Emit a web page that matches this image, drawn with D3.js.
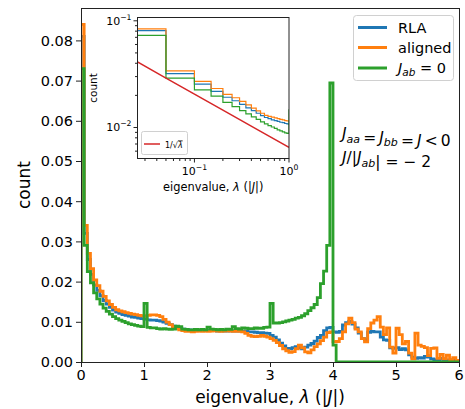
<!DOCTYPE html>
<html>
<head>
<meta charset="utf-8">
<script src="https://cdn.jsdelivr.net/npm/d3@7"></script>
<style>
  body { margin: 0; background: #fff; }
  svg { display: block; font-family: "DejaVu Sans", sans-serif; }
</style>
</head>
<body>
<svg id="chart" width="465" height="409"></svg>
<script>
// histogram bins: 120 bins of width 0.05 on [0, 6]
const binWidth = 0.05;

const rla = [
  0.081, 0.032, 0.0255, 0.0218, 0.0192, 0.0178, 0.0165, 0.0153, 0.0144, 0.0136,
  0.0129, 0.0124, 0.0121, 0.0118, 0.0116, 0.0114, 0.0112, 0.0111, 0.0109, 0.0108,
  0.0107, 0.0105, 0.0104, 0.0104, 0.0103, 0.0102, 0.0099, 0.0096, 0.0093, 0.0089,
  0.0086, 0.0084, 0.0082, 0.0081, 0.0080, 0.0079, 0.0079, 0.0078, 0.0078, 0.0078,
  0.0079, 0.0078, 0.0078, 0.0077, 0.0078, 0.0077, 0.0077, 0.0078, 0.0077, 0.0077,
  0.0078, 0.0077, 0.0076, 0.0075, 0.0075, 0.0074, 0.0073, 0.0073, 0.0072, 0.0071,
  0.0066, 0.0062, 0.0055, 0.0047, 0.0040, 0.0034, 0.0033, 0.0036, 0.0038, 0.0036,
  0.0033, 0.0037, 0.0042, 0.0046, 0.0052, 0.0061, 0.0066, 0.0078, 0.0085, 0.0086,
  0.0075, 0.0074, 0.0076, 0.0092, 0.0098, 0.0101, 0.0094, 0.0085, 0.0072, 0.0058,
  0.0055, 0.0074, 0.0076, 0.0075, 0.0075, 0.0062, 0.0055, 0.0054, 0.0035, 0.0034,
  0.0036, 0.0031, 0.0033, 0.0030, 0.0018, 0.0012, 0.0009, 0.0011, 0.0010, 0.0014,
  0.0012, 0.0008, 0.0005, 0.0006, 0.0009, 0.0005, 0.0004, 0.0005, 0.0004, 0.0003
];

const aligned = [
  0.084, 0.034, 0.027, 0.0232, 0.0204, 0.0190, 0.0176, 0.0163, 0.0152, 0.0143,
  0.0136, 0.0130, 0.0127, 0.0125, 0.0123, 0.0121, 0.0119, 0.0118, 0.0116, 0.0115,
  0.0114, 0.0116, 0.0117, 0.0117, 0.0116, 0.0113, 0.0106, 0.0099, 0.0093, 0.0088,
  0.0083, 0.0080, 0.0078, 0.0076, 0.0076, 0.0075, 0.0076, 0.0077, 0.0076, 0.0077,
  0.0076, 0.0077, 0.0078, 0.0077, 0.0076, 0.0077, 0.0078, 0.0077, 0.0076, 0.0077,
  0.0076, 0.0075, 0.0071, 0.0066, 0.0064, 0.0063, 0.0064, 0.0066, 0.0064, 0.0062,
  0.0058, 0.0054, 0.0048, 0.0041, 0.0033, 0.0028, 0.0024, 0.0026, 0.0033, 0.0042,
  0.0035, 0.0025, 0.0023, 0.0030, 0.0038, 0.0045, 0.0053, 0.0062, 0.0073, 0.0075,
  0.0050, 0.0051, 0.0058, 0.0075, 0.0095, 0.0109, 0.0098, 0.0082, 0.0075, 0.0058,
  0.0050, 0.0083, 0.0097, 0.0104, 0.0113, 0.0087, 0.0068, 0.0085, 0.0037, 0.0022,
  0.0084, 0.0068, 0.0045, 0.0051, 0.0022, 0.0008, 0.0072, 0.0042, 0.0039, 0.0036,
  0.0016, 0.0034, 0.0035, 0.0009, 0.0019, 0.0008, 0.0017, 0.0006, 0.0011, 0.0004
];

const jab0 = [
  0.073, 0.029, 0.0225, 0.0197, 0.0172, 0.0157, 0.0144, 0.0134, 0.0126, 0.0119,
  0.0113, 0.0108, 0.0104, 0.0101, 0.0098, 0.0095, 0.0093, 0.0091, 0.0089, 0.0088,
  0.0146, 0.0086, 0.0085, 0.0085, 0.0083, 0.0082, 0.0083, 0.0082, 0.0081, 0.0082,
  0.0089, 0.0088, 0.0082, 0.0081, 0.0080, 0.0080, 0.0081, 0.0080, 0.0081, 0.0080,
  0.0087, 0.0082, 0.0081, 0.0080, 0.0081, 0.0080, 0.0082, 0.0081, 0.0088, 0.0083,
  0.0082, 0.0085, 0.0084, 0.0083, 0.0083, 0.0085, 0.0084, 0.0084, 0.0086, 0.0087,
  0.0146, 0.0097, 0.0097, 0.0098, 0.0100, 0.0102, 0.0104, 0.0106, 0.0109, 0.0111,
  0.0115, 0.0120, 0.0128, 0.0135, 0.0143, 0.0160, 0.0195, 0.0226, 0.0290, 0.0694,
  0.0042, 0, 0, 0, 0, 0, 0, 0, 0, 0,
  0, 0, 0, 0, 0, 0, 0, 0, 0, 0,
  0, 0, 0, 0, 0, 0, 0, 0, 0, 0,
  0, 0, 0, 0, 0, 0, 0, 0, 0, 0
];

const seriesNames = ["RLA", "aligned", "Jab0"];
const seriesColors = ["#1f77b4", "#ff7f0e", "#2ca02c"];
const xTicks = [0, 1, 2, 3, 4, 5, 6];
const yTicks = [0, 0.01, 0.02, 0.03, 0.04, 0.05, 0.06, 0.07, 0.08];
const refCoef = 0.0065;          // 1/sqrt(lambda) guide line, scaled
const refLambda = [0.02, 0.05, 0.1, 0.2, 0.5, 1.0];

const svg = d3.select("#chart");
const allSeries = [rla, aligned, jab0];

// ---------- main axes ----------
const m = { left: 81, right: 459, top: 8, bottom: 362 };
const x = d3.scaleLinear().domain([0, 6]).range([m.left, m.right]);
const y = d3.scaleLinear().domain([0, 0.08806]).range([m.bottom, m.top]);

const stepPoints = (vals, last) => {
  const n = last === undefined ? vals.length : last;
  const pts = [[0, 0]];
  for (let i = 0; i < n; i++) {
    pts.push([i * binWidth, vals[i]]);
    pts.push([(i + 1) * binWidth, vals[i]]);
  }
  pts.push([n * binWidth, 0]);
  return pts;
};

svg.append("clipPath").attr("id", "mainClip")
  .append("rect")
  .attr("x", m.left).attr("y", m.top)
  .attr("width", m.right - m.left).attr("height", m.bottom - m.top);

const mainLine = d3.line().x(d => x(d[0])).y(d => y(d[1]));
const plot = svg.append("g").attr("clip-path", "url(#mainClip)");
allSeries.forEach((vals, k) => {
  plot.append("path")
    .attr("d", mainLine(stepPoints(vals)))
    .attr("fill", "none")
    .attr("stroke", seriesColors[k])
    .attr("stroke-width", 2.8)
    .attr("stroke-linejoin", "miter");
});

// frame
svg.append("rect")
  .attr("x", m.left + 0.5).attr("y", m.top + 0.5)
  .attr("width", m.right - m.left).attr("height", m.bottom - m.top)
  .attr("fill", "none").attr("stroke", "#222").attr("stroke-width", 1);

const gx = svg.append("g");
xTicks.forEach(t => {
  gx.append("line").attr("x1", x(t) + 0.5).attr("x2", x(t) + 0.5)
    .attr("y1", m.bottom).attr("y2", m.bottom + 5).attr("stroke", "#222");
  gx.append("text").attr("x", x(t)).attr("y", m.bottom + 18)
    .attr("text-anchor", "middle").attr("font-size", 14.5).text(t);
});
const gy = svg.append("g");
yTicks.forEach(t => {
  gy.append("line").attr("x1", m.left - 5).attr("x2", m.left)
    .attr("y1", y(t) + 0.5).attr("y2", y(t) + 0.5).attr("stroke", "#222");
  gy.append("text").attr("x", m.left - 8).attr("y", y(t) + 5.3)
    .attr("text-anchor", "end").attr("font-size", 14.5).text(d3.format(".2f")(t));
});

svg.append("text").attr("transform", "translate(24,185) rotate(-90)")
  .attr("text-anchor", "middle").attr("dominant-baseline", "central")
  .attr("font-size", 17).text("count");

const xl = svg.append("text").attr("x", (m.left + m.right) / 2).attr("y", 403)
  .attr("text-anchor", "middle").attr("font-size", 17);
xl.append("tspan").text("eigenvalue, ");
xl.append("tspan").attr("font-style", "italic").text("λ");
xl.append("tspan").text(" (|");
xl.append("tspan").attr("font-style", "italic").text("J");
xl.append("tspan").text("|)");

// ---------- legend ----------
const lg = svg.append("g");
lg.append("rect").attr("x", 353.5).attr("y", 15.5).attr("width", 100).attr("height", 65)
  .attr("rx", 3).attr("fill", "#fff").attr("fill-opacity", 0.8)
  .attr("stroke", "#d0d0d0");
const legendY = [27.5, 47.5, 68];
seriesNames.forEach((name, k) => {
  lg.append("line").attr("x1", 358).attr("x2", 387)
    .attr("y1", legendY[k]).attr("y2", legendY[k])
    .attr("stroke", seriesColors[k]).attr("stroke-width", 3);
  const t = lg.append("text").attr("x", 398).attr("y", legendY[k] + 5)
    .attr("font-size", 14.5);
  if (name === "Jab0") {
    t.append("tspan").attr("font-style", "italic").text("J");
    t.append("tspan").attr("font-style", "italic").attr("font-size", 10.5)
      .attr("dy", 3).text("ab");
    t.append("tspan").attr("dy", -3).text(" = 0");
  } else {
    t.text(name);
  }
});

// ---------- annotations ----------
const thin = "\u2009";
const ann1 = svg.append("text").attr("x", 342).attr("y", 139).attr("font-size", 15.5);
const sub = (el, s) => {
  el.append("tspan").attr("font-style", "italic").attr("font-size", 11).attr("dy", 3.5).text(s);
  el.append("tspan").attr("dy", -3.5).text("");
};
ann1.append("tspan").attr("font-style", "italic").text("J");
sub(ann1, "aa");
ann1.append("tspan").text(thin + "=" + thin);
ann1.append("tspan").attr("font-style", "italic").text("J");
sub(ann1, "bb");
ann1.append("tspan").text(thin + "=" + thin);
ann1.append("tspan").attr("font-style", "italic").text("J");
ann1.append("tspan").text(thin + "<" + thin + "0");

const ann2 = svg.append("text").attr("x", 342).attr("y", 163).attr("font-size", 15.5);
ann2.append("tspan").attr("font-style", "italic").text("J");
ann2.append("tspan").text("/|");
ann2.append("tspan").attr("font-style", "italic").text("J");
sub(ann2, "ab");
ann2.append("tspan").text("| =  − 2");

// ---------- inset (log-log) ----------
const im = { left: 137.5, right: 289, top: 17.5, bottom: 158.5 };
const ix = d3.scaleLog().domain([0.025, 1]).range([im.left, im.right]);
const iy = d3.scaleLog().domain([0.00512, 0.1074]).range([im.bottom, im.top]);

svg.append("rect").attr("x", im.left).attr("y", im.top)
  .attr("width", im.right - im.left).attr("height", im.bottom - im.top)
  .attr("fill", "#fff");

svg.append("clipPath").attr("id", "insetClip")
  .append("rect").attr("x", im.left).attr("y", im.top)
  .attr("width", im.right - im.left).attr("height", im.bottom - im.top);

const inset = svg.append("g").attr("clip-path", "url(#insetClip)");
const insetLine = d3.line().x(d => ix(Math.max(d[0], 0.01))).y(d => iy(Math.max(d[1], 1e-4)));
allSeries.forEach((vals, k) => {
  const pts = stepPoints(vals, 21).slice(1, -1);
  inset.append("path")
    .attr("d", insetLine(pts))
    .attr("fill", "none")
    .attr("stroke", seriesColors[k])
    .attr("stroke-width", 1.2);
});
inset.append("path")
  .attr("d", d3.line().x(d => ix(d)).y(d => iy(refCoef / Math.sqrt(d)))(refLambda))
  .attr("fill", "none").attr("stroke", "#d62728").attr("stroke-width", 1.5);

svg.append("rect").attr("x", im.left).attr("y", im.top)
  .attr("width", im.right - im.left).attr("height", im.bottom - im.top)
  .attr("fill", "none").attr("stroke", "#222").attr("stroke-width", 1);

const ixMajor = [0.1, 1];
const ixMinor = [0.03, 0.04, 0.05, 0.06, 0.07, 0.08, 0.09, 0.2, 0.3, 0.4, 0.5, 0.6, 0.7, 0.8, 0.9];
const iyMajor = [0.1, 0.01];
const iyMinor = [0.006, 0.007, 0.008, 0.009, 0.02, 0.03, 0.04, 0.05, 0.06, 0.07, 0.08, 0.09];
const ig = svg.append("g").attr("stroke", "#222");
ixMajor.forEach(t => ig.append("line").attr("x1", ix(t)).attr("x2", ix(t))
  .attr("y1", im.bottom).attr("y2", im.bottom + 4));
ixMinor.forEach(t => ig.append("line").attr("x1", ix(t)).attr("x2", ix(t))
  .attr("y1", im.bottom).attr("y2", im.bottom + 2.5));
iyMajor.forEach(t => ig.append("line").attr("y1", iy(t)).attr("y2", iy(t))
  .attr("x1", im.left - 4).attr("x2", im.left));
iyMinor.forEach(t => ig.append("line").attr("y1", iy(t)).attr("y2", iy(t))
  .attr("x1", im.left - 2.5).attr("x2", im.left));

const powLabel = (sel, e) => {
  sel.append("tspan").text("10");
  sel.append("tspan").attr("font-size", 7.7).attr("dy", -5).text(e);
};
ixMajor.forEach((t, i) => {
  const tx = svg.append("text").attr("x", ix(t)).attr("y", im.bottom + 16)
    .attr("text-anchor", "middle").attr("font-size", 11);
  powLabel(tx, i === 0 ? "−1" : "0");
});
iyMajor.forEach((t, i) => {
  const ty = svg.append("text").attr("x", im.left - 6).attr("y", iy(t) + 4)
    .attr("text-anchor", "end").attr("font-size", 11);
  powLabel(ty, i === 0 ? "−1" : "−2");
});

svg.append("text").attr("transform", `translate(93,${(im.top + im.bottom) / 2}) rotate(-90)`)
  .attr("text-anchor", "middle").attr("dominant-baseline", "central")
  .attr("font-size", 10.5).text("count");
const ixl = svg.append("text").attr("x", (im.left + im.right) / 2).attr("y", 191)
  .attr("text-anchor", "middle").attr("font-size", 11.4);
ixl.append("tspan").text("eigenvalue, ");
ixl.append("tspan").attr("font-style", "italic").text("λ");
ixl.append("tspan").text(" (|");
ixl.append("tspan").attr("font-style", "italic").text("J");
ixl.append("tspan").text("|)");

// inset legend
svg.append("rect").attr("x", 141.5).attr("y", 131.5).attr("width", 46).attr("height", 23)
  .attr("rx", 2).attr("fill", "#fff").attr("fill-opacity", 0.8).attr("stroke", "#d0d0d0");
svg.append("line").attr("x1", 144).attr("x2", 160).attr("y1", 144).attr("y2", 144)
  .attr("stroke", "#d62728").attr("stroke-width", 1.5);
const il = svg.append("text").attr("x", 165).attr("y", 147.5).attr("font-size", 8);
il.append("tspan").text("1/√");
il.append("tspan").attr("font-style", "italic").attr("text-decoration", "overline").text("λ");
</script>
</body>
</html>
